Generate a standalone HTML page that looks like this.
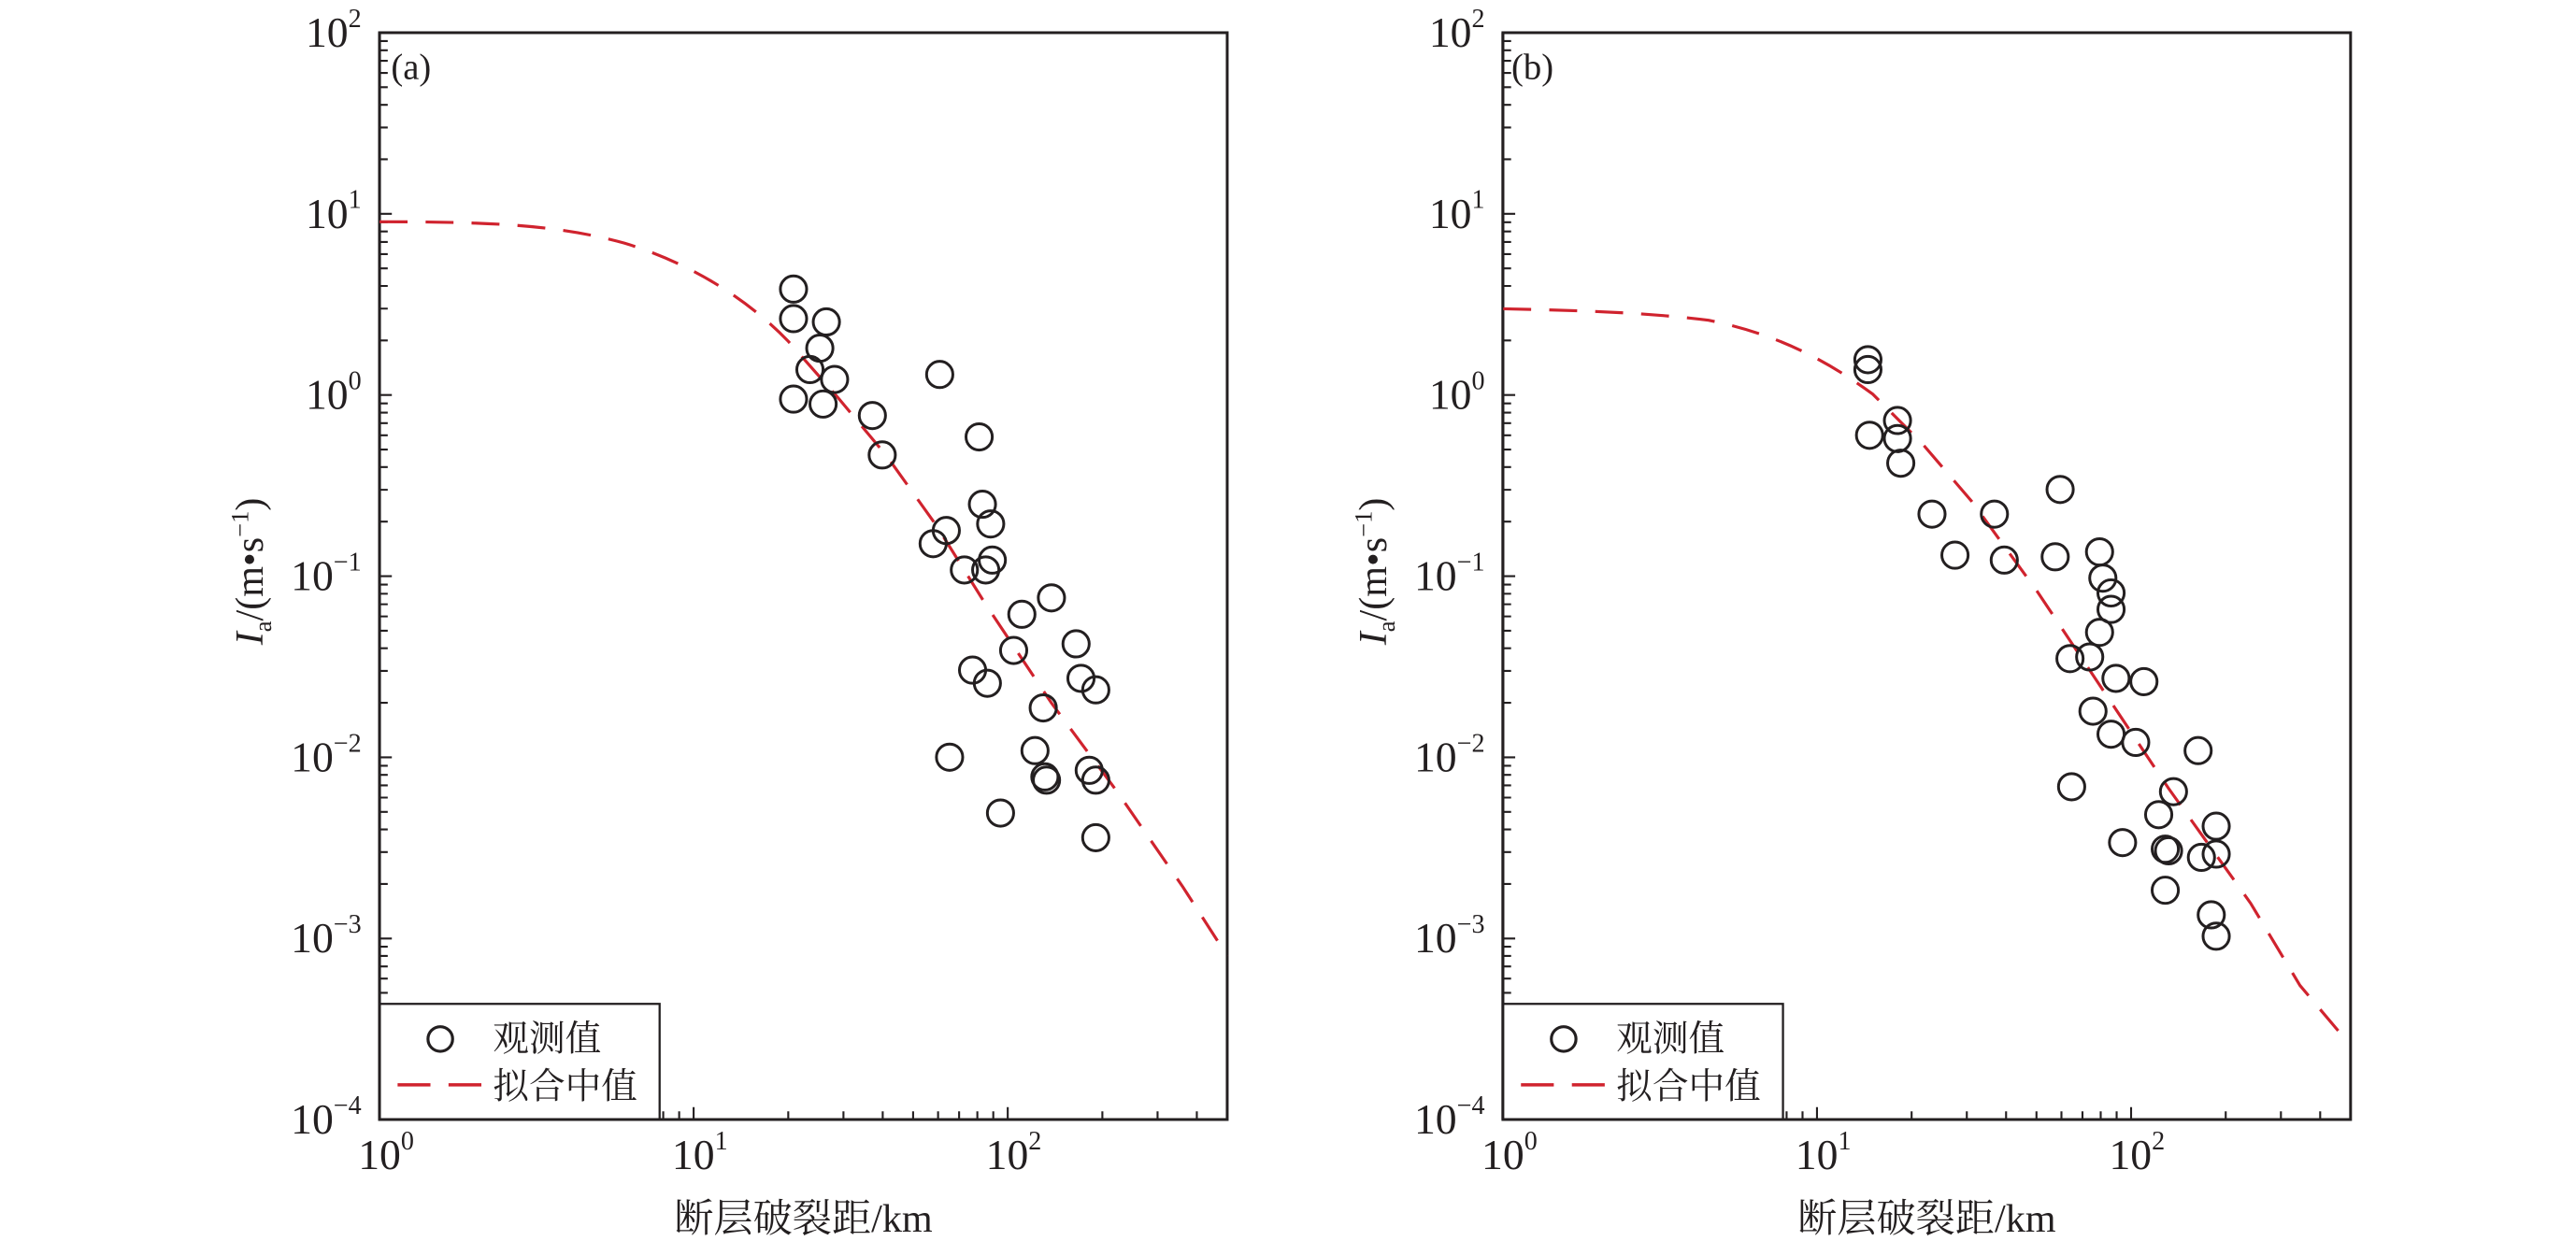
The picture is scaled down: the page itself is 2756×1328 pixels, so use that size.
<!DOCTYPE html>
<html><head><meta charset="utf-8"><style>
html,body{margin:0;padding:0;background:#fff;}
svg{display:block;}
text{font-family:"Liberation Serif","Noto Serif CJK SC",serif;fill:#231f20;}
.cjk{font-family:"Noto Serif CJK SC","Noto Sans CJK SC",serif;}
</style></head><body>
<svg width="2756" height="1328" viewBox="0 0 1568 755.57" xmlns="http://www.w3.org/2000/svg">
<defs>
<g id="yd" stroke="#231f20" stroke-width="1.2">
<path d="M0,0h7.5M0,-33.2h5M0,-52.6h5M0,-66.4h5M0,-77.1h5M0,-85.8h5M0,-93.2h5M0,-99.6h5M0,-105.2h5"/>
</g>
<g id="xd" stroke="#231f20" stroke-width="1.2">
<path d="M0,0v-7.5M57.6,0v-5M91.2,0v-5M115.1,0v-5M133.6,0v-5M148.8,0v-5M161.6,0v-5M172.7,0v-5M182.4,0v-5"/>
</g>
<g id="ax">
<rect x="0" y="0" width="516" height="661.7" fill="none" stroke="#231f20" stroke-width="1.7"/>
<use href="#yd" transform="translate(0,110.3)"/>
<use href="#yd" transform="translate(0,220.6)"/>
<use href="#yd" transform="translate(0,330.9)"/>
<use href="#yd" transform="translate(0,441.2)"/>
<use href="#yd" transform="translate(0,551.5)"/>
<use href="#yd" transform="translate(0,661.7)"/>
<path d="M0,0h7.5" stroke="#231f20" stroke-width="1.2"/>
<use href="#xd" transform="translate(0,661.7)"/>
<use href="#xd" transform="translate(191.2,661.7)"/>
<path d="M382.4,661.7v-7.5M440,661.7v-5M473.6,661.7v-5M497.5,661.7v-5" stroke="#231f20" stroke-width="1.2"/>
<g font-size="26" text-anchor="end">
<text x="-11" y="8.5">10<tspan font-size="16" dy="-12">2</tspan></text>
<text x="-11" y="118.8">10<tspan font-size="16" dy="-12">1</tspan></text>
<text x="-11" y="229.1">10<tspan font-size="16" dy="-12">0</tspan></text>
<text x="-11" y="339.4">10<tspan font-size="16" dy="-12">−1</tspan></text>
<text x="-11" y="449.7">10<tspan font-size="16" dy="-12">−2</tspan></text>
<text x="-11" y="560">10<tspan font-size="16" dy="-12">−3</tspan></text>
<text x="-11" y="670.2">10<tspan font-size="16" dy="-12">−4</tspan></text>
</g>
<g font-size="26" text-anchor="middle">
<text x="4" y="692">10<tspan font-size="16" dy="-12">0</tspan></text>
<text x="195" y="692">10<tspan font-size="16" dy="-12">1</tspan></text>
<text x="386" y="692">10<tspan font-size="16" dy="-12">2</tspan></text>
</g>
<text class="cjk" x="258" y="730" font-size="24" text-anchor="middle">断层破裂距<tspan font-family="Liberation Serif">/km</tspan></text>
<text transform="translate(-71,328) rotate(-90)" font-size="24" text-anchor="middle"><tspan font-style="italic">I</tspan><tspan font-size="15" dy="5">a</tspan><tspan dy="-5">/(m•s</tspan><tspan font-size="15" dy="-9">−1</tspan><tspan dy="9">)</tspan></text>
<rect x="0" y="591.3" width="170.5" height="70.4" fill="#fff" stroke="#231f20" stroke-width="1.3"/>
<path d="M0,661.7h516" stroke="#231f20" stroke-width="1.7"/>
<path d="M0,0v661.7" stroke="#231f20" stroke-width="1.7"/>
<circle cx="37" cy="612.7" r="7.5" fill="none" stroke="#231f20" stroke-width="1.8"/>
<path d="M11,640.6h51" stroke="#d0232e" stroke-width="2" stroke-dasharray="20,11"/>
<text class="cjk" x="69" y="620" font-size="22">观测值</text>
<text class="cjk" x="69" y="649" font-size="22">拟合中值</text>
</g>
</defs>

<!-- Panel a -->
<use href="#ax" transform="translate(231,19.9)"/>
<text x="238" y="48" font-size="22">(a)</text>
<path d="M231,135 C 300,135 340,137 380,148 C 420,160 455,182 480,208 L 510,242 L 540,278 L 570,320 L 600,368 L 640,428 L 680,482 L 720,540 L 747,582" fill="none" stroke="#d0232e" stroke-width="1.8" stroke-dasharray="17,11"/>
<g fill="none" stroke="#231f20" stroke-width="1.7">
<circle cx="483" cy="176" r="8"/><circle cx="483" cy="194" r="8"/><circle cx="503" cy="196" r="8"/><circle cx="499" cy="212" r="8"/><circle cx="493" cy="225" r="8"/><circle cx="508" cy="231" r="8"/><circle cx="483" cy="243" r="8"/><circle cx="501" cy="246" r="8"/><circle cx="531" cy="253" r="8"/><circle cx="537" cy="277" r="8"/><circle cx="572" cy="228" r="8"/><circle cx="596" cy="266" r="8"/><circle cx="576" cy="323" r="8"/><circle cx="568" cy="331" r="8"/><circle cx="598" cy="307" r="8"/><circle cx="603" cy="319" r="8"/><circle cx="587" cy="347" r="8"/><circle cx="600" cy="347" r="8"/><circle cx="604" cy="341" r="8"/><circle cx="640" cy="364" r="8"/><circle cx="622" cy="374" r="8"/><circle cx="617" cy="396" r="8"/><circle cx="592" cy="408" r="8"/><circle cx="601" cy="416" r="8"/><circle cx="655" cy="392" r="8"/><circle cx="658" cy="413" r="8"/><circle cx="667" cy="420" r="8"/><circle cx="635" cy="431" r="8"/><circle cx="630" cy="457" r="8"/><circle cx="578" cy="461" r="8"/><circle cx="663" cy="469" r="8"/><circle cx="636" cy="473" r="8"/><circle cx="637" cy="475" r="8"/><circle cx="667" cy="475" r="8"/><circle cx="609" cy="495" r="8"/><circle cx="667" cy="510" r="8"/>
</g>

<!-- Panel b -->
<use href="#ax" transform="translate(914.8,19.9)"/>
<text x="920" y="48" font-size="22">(b)</text>
<path d="M915,188 C 960,189 1000,190 1040,195 C 1080,203 1110,218 1140,240 L 1170,270 L 1200,305 L 1240,360 L 1280,420 L 1320,480 L 1370,550 L 1400,600 L 1427,632" fill="none" stroke="#d0232e" stroke-width="1.8" stroke-dasharray="17,11"/>
<g fill="none" stroke="#231f20" stroke-width="1.7">
<circle cx="1137" cy="219" r="8"/><circle cx="1137" cy="225" r="8"/><circle cx="1155" cy="256" r="8"/><circle cx="1155" cy="267" r="8"/><circle cx="1157" cy="282" r="8"/><circle cx="1138" cy="265" r="8"/><circle cx="1176" cy="313" r="8"/><circle cx="1190" cy="338" r="8"/><circle cx="1214" cy="313" r="8"/><circle cx="1220" cy="341" r="8"/><circle cx="1254" cy="298" r="8"/><circle cx="1251" cy="339" r="8"/><circle cx="1278" cy="336" r="8"/><circle cx="1280" cy="352" r="8"/><circle cx="1285" cy="361" r="8"/><circle cx="1278" cy="385" r="8"/><circle cx="1285" cy="371" r="8"/><circle cx="1260" cy="401" r="8"/><circle cx="1272" cy="400" r="8"/><circle cx="1288" cy="413" r="8"/><circle cx="1305" cy="415" r="8"/><circle cx="1274" cy="433" r="8"/><circle cx="1285" cy="447" r="8"/><circle cx="1300" cy="452" r="8"/><circle cx="1261" cy="479" r="8"/><circle cx="1338" cy="457" r="8"/><circle cx="1323" cy="482" r="8"/><circle cx="1314" cy="496" r="8"/><circle cx="1349" cy="503" r="8"/><circle cx="1292" cy="513" r="8"/><circle cx="1318" cy="517" r="8"/><circle cx="1320" cy="518" r="8"/><circle cx="1340" cy="522" r="8"/><circle cx="1349" cy="520" r="8"/><circle cx="1318" cy="542" r="8"/><circle cx="1346" cy="557" r="8"/><circle cx="1349" cy="570" r="8"/>
</g>
</svg>
</body></html>
